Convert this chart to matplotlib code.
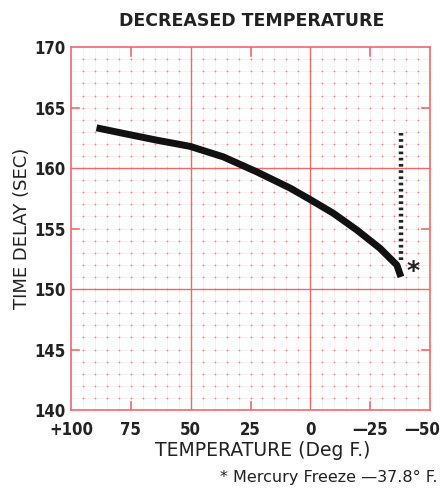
import numpy as np
import matplotlib.pyplot as plt
import matplotlib.transforms as mtransforms

# Data
temp = [89.3, 78.1, 64.2, 50.3, 36.4, 22.4, 8.5, 0.1, -9.6, -19.4, -29.1, -36.1, -37.8]
delay = [163.33, 162.87, 162.31, 161.80, 160.93, 159.69, 158.35, 157.40, 156.26,
         154.88, 153.36, 151.98, 151.0]

x_ticks = [100, 75, 50, 25, 0, -25, -50]
x_labels = ["+100", "75", "50", "25", "0", "\u201425", "\u201450"]
y_ticks = [140, 145, 150, 155, 160, 165, 170]

freeze_temp = -37.8
freeze_top = 162.9
freeze_bottom = 152.4

red = "#ee6a6a"
pink = "#f7c9c9"
ink = "#222222"

fig = plt.figure(figsize=(4.43, 4.91), dpi=100)
ax = fig.add_axes([0.160, 0.165, 0.811, 0.739])

ax.set_xlim(100, -50)
ax.set_ylim(140, 170)

# graph paper: light lines, dots, major red lines
for xv in np.arange(-50, 101, 5):
    ax.axvline(xv, color=pink, lw=0.4, alpha=0.5, zorder=0)
for yv in np.arange(140, 171, 1):
    ax.axhline(yv, color=pink, lw=0.4, alpha=0.5, zorder=0)
gx, gy = np.meshgrid(np.arange(-45, 100, 5), np.arange(141, 170, 1))
ax.scatter(gx.ravel(), gy.ravel(), s=1.6, color=red, alpha=0.8, lw=0, zorder=1)
for xv in [50, 0]:
    ax.axvline(xv, color=red, lw=1.0, zorder=1)
for yv in [160, 150]:
    ax.axhline(yv, color=red, lw=1.0, zorder=1)

for s in ax.spines.values():
    s.set_color(red)
    s.set_linewidth(1.2)

# curve
ax.plot(temp, delay, color="#111111", lw=5, solid_capstyle="butt",
        solid_joinstyle="round", zorder=3)

# mercury freeze dotted line
ax.plot([freeze_temp, freeze_temp], [freeze_bottom, freeze_top], color=ink,
        lw=3.2, ls=(0, (0.6, 0.8)), zorder=3)
ax.text(freeze_temp - 2.3, 151.5, "*", fontsize=18, fontweight="bold", color=ink,
        ha="left", va="center", zorder=3)

ax.set_xticks(x_ticks)
ax.set_xticklabels(x_labels)
ax.set_yticks(y_ticks)
ax.tick_params(axis="both", length=0, pad=4, labelsize=12, colors=ink)
ax.tick_params(axis="x", pad=8)
for lab in ax.get_xticklabels() + ax.get_yticklabels():
    lab.set_family(["DejaVu Sans"])
    lab.set_stretch("condensed")
    lab.set_fontweight("bold")

# keep the last x label inside the picture
last = ax.get_xticklabels()[-1]
last.set_horizontalalignment("right")
last.set_transform(last.get_transform() +
                   mtransforms.ScaledTranslation(10 / 100, 0, fig.dpi_scale_trans))

# short red tick marks inside the frame
for yv in [165, 155, 145]:
    ax.plot([100, 96.5], [yv, yv], color=red, lw=1.2, zorder=1)
    ax.plot([-50, -46.5], [yv, yv], color=red, lw=1.2, zorder=1)
for xv in [75, 25, -25]:
    ax.plot([xv, xv], [140, 140.7], color=red, lw=1.2, zorder=1)
    ax.plot([xv, xv], [170, 169.3], color=red, lw=1.2, zorder=1)

fig.text(0.569, 0.958, "DECREASED TEMPERATURE", ha="center", va="center",
         fontsize=12.5, fontweight="bold", color=ink)
fig.text(0.05, 0.535, "TIME DELAY (SEC)", rotation=90, ha="center", va="center",
         fontsize=13, color=ink)
fig.text(0.592, 0.083, "TEMPERATURE (Deg F.)", ha="center", va="center",
         fontsize=13.5, color=ink)
fig.text(0.988, 0.027, "* Mercury Freeze \u201437.8\u00b0 F.", ha="right", va="center",
         fontsize=11.5, color=ink)

fig.savefig("out.png", dpi=100)
